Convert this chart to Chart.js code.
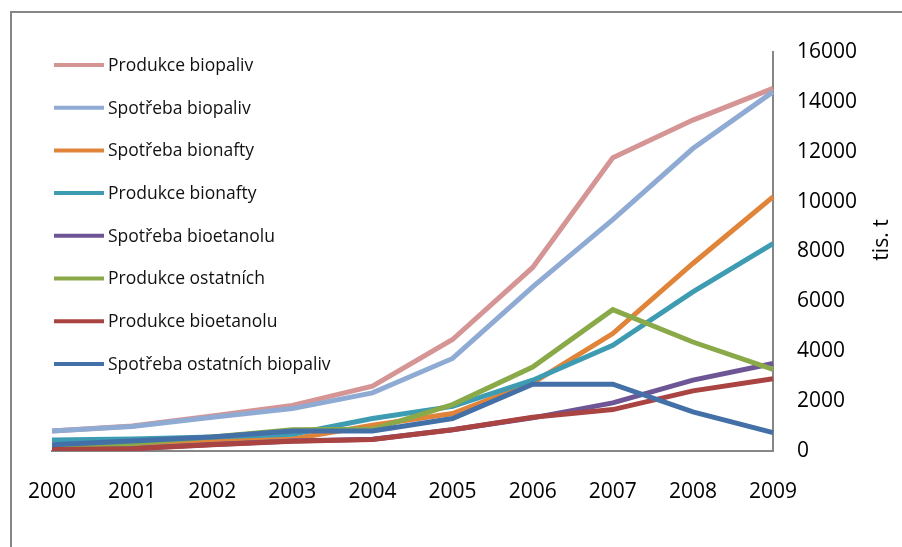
<!DOCTYPE html>
<html lang="cs">
<head>
<meta charset="utf-8">
<title>Produkce a spotřeba biopaliv</title>
<script src="https://cdn.jsdelivr.net/npm/chart.js@4/dist/chart.umd.min.js"></script>
<style>
  html, body { margin: 0; padding: 0; background: #ffffff; }
  #wrap { width: 902px; height: 547px; position: relative; }
</style>
</head>
<body>
<div id="wrap"><canvas id="chart" width="902" height="547"></canvas></div>
<script>
// Roky
const years = ['2000', '2001', '2002', '2003', '2004', '2005', '2006', '2007', '2008', '2009'];

// Hodnoty v tis. t
const produkceBiopaliv   = [800, 1000, 1400, 1830, 2600, 4470, 7360, 11760, 13270, 14540];
const spotrebaBiopaliv   = [800, 980, 1350, 1700, 2330, 3710, 6580, 9280, 12130, 14400];
const spotrebaBionafty   = [150, 250, 400, 480, 1030, 1500, 2730, 4710, 7520, 10190];
const produkceBionafty   = [440, 480, 560, 670, 1300, 1790, 2840, 4240, 6380, 8320];
const spotrebaBioetanolu = [70, 100, 260, 400, 470, 850, 1330, 1930, 2840, 3510];
const produkceOstatnich  = [200, 300, 560, 850, 870, 1860, 3370, 5670, 4370, 3270];
const produkceBioetanolu = [60, 90, 250, 390, 460, 850, 1350, 1660, 2410, 2900];
const spotrebaOstatnich  = [250, 400, 560, 800, 800, 1300, 2680, 2680, 1570, 740];

const seriesNames = [
  'Produkce biopaliv',
  'Spotřeba biopaliv',
  'Spotřeba bionafty',
  'Produkce bionafty',
  'Spotřeba bioetanolu',
  'Produkce ostatních',
  'Produkce bioetanolu',
  'Spotřeba ostatních biopaliv'
];
const seriesValues = [
  produkceBiopaliv, spotrebaBiopaliv, spotrebaBionafty, produkceBionafty,
  spotrebaBioetanolu, produkceOstatnich, produkceBioetanolu, spotrebaOstatnich
];
const seriesColors = ['#D59594', '#8FABD4', '#E0843A', '#3E9CB2', '#6E5595', '#8AAA4A', '#A94442', '#4470A8'];

const yTicks = { min: 0, max: 16000, step: 2000 };
const yTitle = 'tis. t';

const FONT = '"Open Sans", "Noto Sans", sans-serif';
const AXIS_GREY = '#868686';

// Later series are painted over earlier ones
const datasets = seriesNames.map((name, i) => ({
  label: name,
  data: seriesValues[i],
  borderColor: seriesColors[i],
  backgroundColor: seriesColors[i],
  borderWidth: 5,
  pointRadius: 0,
  pointHoverRadius: 0,
  tension: 0,
  fill: false,
  order: seriesNames.length - i
}));

// Outer frame (left and top edges)
const framePlugin = {
  id: 'frame',
  beforeDraw(chart) {
    const ctx = chart.ctx;
    ctx.save();
    ctx.strokeStyle = AXIS_GREY;
    ctx.lineWidth = 2;
    ctx.beginPath();
    ctx.moveTo(11, chart.height);
    ctx.lineTo(11, 12);
    ctx.lineTo(chart.width, 12);
    ctx.stroke();
    ctx.restore();
  }
};

// Vertical legend inside the plot, plus the rotated axis title
const legendPlugin = {
  id: 'sideLegend',
  afterDraw(chart) {
    const ctx = chart.ctx;
    ctx.save();
    ctx.font = '17.5px ' + FONT;
    ctx.textBaseline = 'middle';
    ctx.textAlign = 'left';
    chart.data.datasets.forEach((ds, i) => {
      const y = 65 + i * 42.7;
      ctx.strokeStyle = ds.borderColor;
      ctx.lineWidth = 4;
      ctx.beginPath();
      ctx.moveTo(54, y);
      ctx.lineTo(104, y);
      ctx.stroke();
      ctx.fillStyle = '#111111';
      ctx.fillText(ds.label, 108, y + 1);
    });

    ctx.translate(882, 240);
    ctx.rotate(-Math.PI / 2);
    ctx.font = '21px ' + FONT;
    ctx.textAlign = 'center';
    ctx.fillStyle = '#000000';
    ctx.fillText(yTitle, 0, 0);
    ctx.restore();
  }
};

new Chart(document.getElementById('chart'), {
  type: 'line',
  data: { labels: years, datasets },
  plugins: [framePlugin, legendPlugin],
  options: {
    responsive: false,
    animation: false,
    layout: { padding: { left: 51, top: 52, right: 0, bottom: 0 } },
    plugins: {
      legend: { display: false },
      tooltip: { enabled: false },
      title: { display: false }
    },
    scales: {
      x: {
        offset: false,
        grid: { display: false, drawTicks: false },
        border: { display: true, color: AXIS_GREY, width: 2 },
        ticks: {
          color: '#000000',
          font: { family: FONT, size: 21 },
          padding: 28,
          maxRotation: 0,
          autoSkip: false
        },
        afterFit(scale) { scale.height = 96; }
      },
      y: {
        position: 'right',
        min: yTicks.min,
        max: yTicks.max,
        grid: { display: false, drawTicks: false },
        border: { display: true, color: AXIS_GREY, width: 2 },
        ticks: {
          stepSize: yTicks.step,
          color: '#000000',
          font: { family: FONT, size: 21 },
          padding: 24,
          callback: (value) => String(value)
        },
        afterFit(scale) { scale.width = 129; }
      }
    }
  }
});
</script>
</body>
</html>
